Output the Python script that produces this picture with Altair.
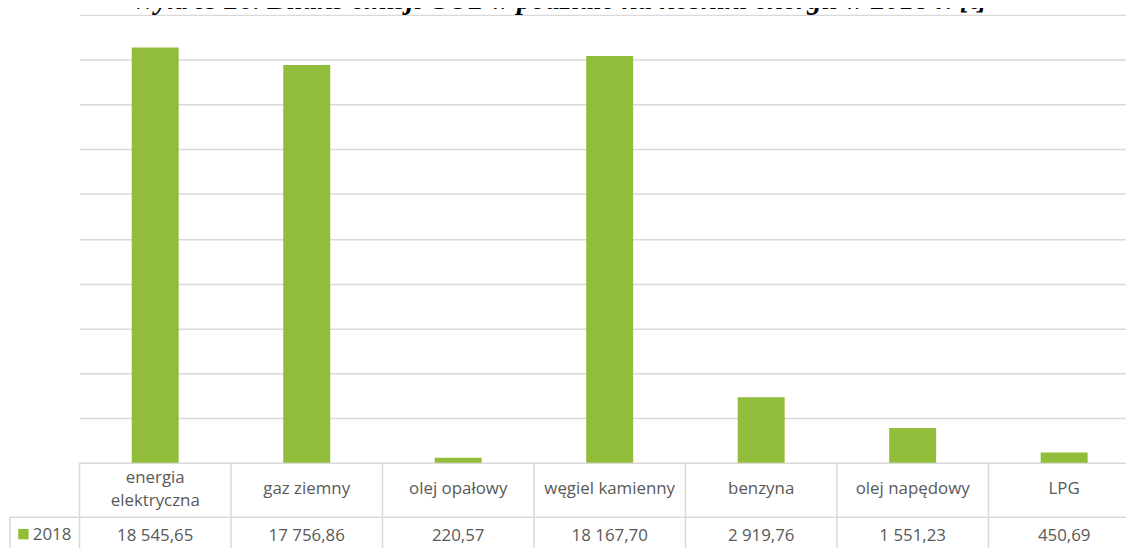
import altair as alt
import pandas as pd

TITLE = "Wykres 26. Bilans emisji CO2 w podziale na nośniki energii w 2018 r. [t]"
SERIES = ["2018"]
CATEGORIES = ["energia elektryczna", "gaz ziemny", "olej opałowy", "węgiel kamienny",
              "benzyna", "olej napędowy", "LPG"]
CATEGORY_LABELS = ["energia\nelektryczna", "gaz ziemny", "olej opałowy", "węgiel kamienny",
                   "benzyna", "olej napędowy", "LPG"]
VALUES = [18545.65, 17756.86, 220.57, 18167.70, 2919.76, 1551.23, 450.69]
VALUE_LABELS = ["18 545,65", "17 756,86", "220,57", "18 167,70", "2 919,76", "1 551,23", "450,69"]
Y_TICKS = [0, 2000, 4000, 6000, 8000, 10000, 12000, 14000, 16000, 18000, 20000]

W = 1068
H = 451
GREEN = "#92BD3A"
GRID = "#D9D9D9"
TEXT = "#595959"
FONT = "Open Sans"
LINE_H = 23

df = pd.DataFrame({"cat": CATEGORIES, "value": VALUES, "label": VALUE_LABELS,
                   "catlabel": CATEGORY_LABELS})
df["nlines"] = df["catlabel"].str.count("\n") + 1
sdf = pd.DataFrame({"series": SERIES})
tdf = pd.DataFrame({"title": [TITLE]})

x_scale = alt.Scale(domain=CATEGORIES, paddingInner=0, paddingOuter=0)

x_axis = alt.Axis(
    title=None, domain=True, domainColor=GRID, domainWidth=1.5, ticks=False,
    labels=False, grid=False,
)
y_axis = alt.Axis(
    title=None, values=Y_TICKS, labels=False, ticks=False, domain=False,
    grid=True, gridColor=GRID, gridWidth=1.5,
)

bars = alt.Chart(df).mark_bar(color=GREEN, width=alt.RelativeBandSize(0.31)).encode(
    x=alt.X("cat:N", sort=CATEGORIES, scale=x_scale, axis=x_axis),
    y=alt.Y("value:Q", scale=alt.Scale(domain=[0, 20000], nice=False), axis=y_axis),
)

col_rules = alt.Chart(df).mark_rule(color=GRID, strokeWidth=1.5).encode(
    x=alt.X("cat:N", sort=CATEGORIES, scale=x_scale, bandPosition=0, axis=None),
    y=alt.value(H),
    y2=alt.value(H + 120),
)

cat_text = alt.Chart(df).mark_text(
    font=FONT, fontSize=17, color=TEXT, baseline="middle", align="center",
    lineBreak="\n", lineHeight=LINE_H,
).encode(
    x=alt.X("cat:N", sort=CATEGORIES, scale=x_scale, axis=None),
    y=alt.value(478),
    yOffset=alt.YOffset("nlines:Q", scale=alt.Scale(domain=[1, 2], range=[0, -LINE_H / 2])),
    text="catlabel:N",
)

value_text = alt.Chart(df).mark_text(
    font=FONT, fontSize=17, color=TEXT, baseline="alphabetic", align="center"
).encode(
    x=alt.X("cat:N", sort=CATEGORIES, scale=x_scale, axis=None),
    y=alt.value(530),
    text="label:N",
)

row_rule = alt.Chart(sdf).mark_rule(color=GRID, strokeWidth=1.5).encode(
    x=alt.value(-70), x2=alt.value(W), y=alt.value(506)
)
left_rule = alt.Chart(sdf).mark_rule(color=GRID, strokeWidth=1.5).encode(
    x=alt.value(-70), y=alt.value(506), y2=alt.value(H + 120)
)

legend_sq = alt.Chart(sdf).mark_square(color=GREEN, size=110, opacity=1, filled=True).encode(
    x=alt.value(-56.5), y=alt.value(523)
)
legend_txt = alt.Chart(sdf).mark_text(
    font=FONT, fontSize=17, color=TEXT, align="left", baseline="alphabetic"
).encode(x=alt.value(-47), y=alt.value(529), text="series:N")

title_txt = alt.Chart(tdf).mark_text(
    font="Liberation Serif", fontSize=29, fontWeight="bold", fontStyle="italic",
    color="#000000", align="center", baseline="alphabetic"
).encode(x=alt.value(483), y=alt.value(-6), text="title:N")

chart = alt.layer(
    bars, col_rules, cat_text, value_text, row_rule, left_rule, legend_sq, legend_txt, title_txt
).resolve_scale(yOffset="independent").properties(
    width=W, height=H,
    padding={"left": 72, "top": 5, "right": -14, "bottom": 84},
    autosize=alt.AutoSizeParams(type="none"),
    background="white",
).configure_view(stroke=None)

chart.save("out.html", embed_options={"renderer": "svg", "actions": False})
